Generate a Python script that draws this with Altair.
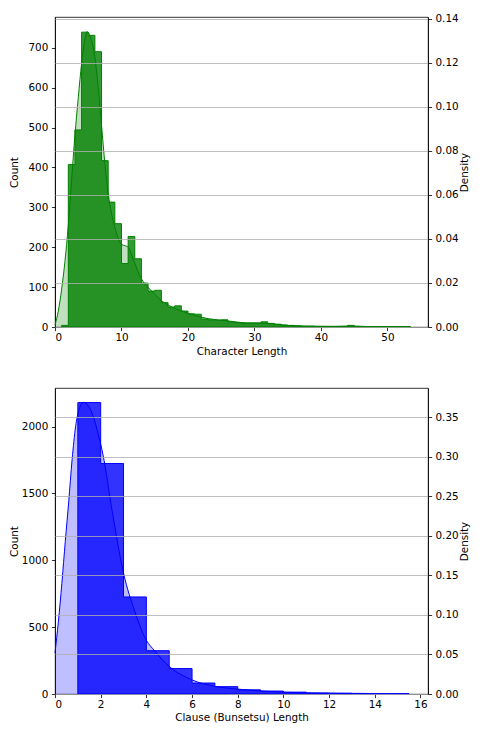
import altair as alt
import pandas as pd

# ---------------- data: Character Length ----------------
char_edges = list(range(1, 54)) + [53.45]
char_counts = [4, 407, 494, 739, 731, 690, 417, 313, 259, 159,
               227, 171, 110, 90, 92, 61, 50, 53, 40, 33,
               32, 20, 18, 17, 18, 13, 11, 10, 10, 10,
               13, 9, 7, 5, 4, 3, 2, 2, 1, 1,
               1, 1, 1, 4, 1, 1, 1, 1, 1, 1,
               1, 1, 1]
char_kde_x = [0, 0.5, 1.0, 1.5, 2.0, 2.5, 3.0, 3.5, 4.0, 4.5, 4.8, 5.2, 5.6, 6.0,
              6.5, 7.0, 7.5, 8.0, 8.5, 9.0, 9.5, 10.0, 10.5, 11.0, 11.5, 12.0,
              13.0, 14.0, 15.0, 16.0, 17.0, 18.0, 19.0, 20.0, 21.0, 23.0, 25.0,
              27.0, 29.0, 31.0, 33.0, 35.0, 38.0, 42.0, 44.5, 47.0, 50.0, 53.45]
char_kde_density = [0.0009, 0.0073, 0.0172, 0.0299, 0.0462, 0.0671, 0.0871, 0.1043,
                    0.1197, 0.1309, 0.1342, 0.1329, 0.1291, 0.1226, 0.1088, 0.0916,
                    0.0744, 0.0608, 0.0517, 0.0453, 0.0403, 0.0375, 0.0370, 0.0363,
                    0.0330, 0.0290, 0.0219, 0.0180, 0.0149, 0.0120, 0.0100, 0.0085,
                    0.0073, 0.0062, 0.0053, 0.0038, 0.0031, 0.0024, 0.0018, 0.0018,
                    0.0013, 0.0007, 0.0004, 0.0003, 0.0005, 0.0002, 0.00015, 0.0001]

# ---------------- data: Clause (Bunsetsu) Length ----------------
clause_edges = list(range(1, 16)) + [15.5]
clause_counts = [2180, 1724, 726, 324, 190, 82, 55, 31, 22, 14, 7, 5, 3, 2, 1]
clause_kde_x = [0, 0.15, 0.3, 0.45, 0.6, 0.75, 0.9, 1.05, 1.25, 1.5, 1.7, 1.9, 2.1,
                2.5, 3.0, 3.5, 4.0, 4.35, 5.0, 6.0, 7.0, 8.0, 9.0, 10.0, 12.0,
                14.0, 15.5]
clause_kde_density = [0.052, 0.092, 0.140, 0.193, 0.243, 0.297, 0.338, 0.360, 0.369,
                      0.363, 0.349, 0.328, 0.303, 0.232, 0.153, 0.104, 0.068, 0.055,
                      0.035, 0.0178, 0.0097, 0.0062, 0.0038, 0.0022, 0.0011, 0.0006,
                      0.0003]

# ---------------- ticks ----------------
char_x_ticks = [0, 10, 20, 30, 40, 50]
char_count_ticks = [0, 100, 200, 300, 400, 500, 600, 700]
char_density_ticks = [0.0, 0.02, 0.04, 0.06, 0.08, 0.10, 0.12, 0.14]
clause_x_ticks = [0, 2, 4, 6, 8, 10, 12, 14, 16]
clause_count_ticks = [0, 500, 1000, 1500, 2000]
clause_density_ticks = [0.0, 0.05, 0.10, 0.15, 0.20, 0.25, 0.30, 0.35]

FONT = 10.4


def step_frame(edges, counts):
    return pd.DataFrame({"x": list(edges), "count": list(counts) + [counts[-1]]})


def panel(edges, counts, kx, kd, color, xmax, cmax, dmax,
          xticks, cticks, dticks, xtitle, w, h, xtpad, ctpad):
    hist_df = step_frame(edges, counts)
    kde_df = pd.DataFrame({"x": kx, "density": kd})
    xenc = alt.X("x:Q", scale=alt.Scale(domain=[0, xmax], nice=False, zero=False),
                 axis=alt.Axis(values=xticks, title=xtitle, grid=False,
                               labelPadding=2, titlePadding=xtpad))
    hist = alt.Chart(hist_df).mark_area(
        interpolate="step-after", fill=color, fillOpacity=0.8,
        stroke=color, strokeWidth=1
    ).encode(
        x=xenc,
        y=alt.Y("count:Q", scale=alt.Scale(domain=[0, cmax], nice=False),
                axis=alt.Axis(values=cticks, title="Count", grid=False, orient="left",
                              format="d", labelPadding=3.6, titlePadding=ctpad)),
    )
    daxis = alt.Axis(values=dticks, title="Density", orient="right", format=".2f",
                     grid=True, gridColor="#b0b0b0", gridWidth=0.8, zindex=1,
                     labelPadding=3.4, titlePadding=1.5, titleAngle=270,
                     titleBaseline="top")
    dscale = alt.Scale(domain=[0, dmax], nice=False)
    kde_area = alt.Chart(kde_df).mark_area(
        interpolate="monotone", color=color, opacity=0.25
    ).encode(x=xenc, y=alt.Y("density:Q", scale=dscale, axis=daxis))
    kde_line = alt.Chart(kde_df).mark_line(
        interpolate="monotone", color=color, strokeWidth=1
    ).encode(x=xenc, y=alt.Y("density:Q", scale=dscale, axis=daxis))
    return alt.layer(hist, alt.layer(kde_area, kde_line)).resolve_scale(
        y="independent").properties(width=w, height=h)


top = panel(char_edges, char_counts, char_kde_x, char_kde_density, "green",
            56.1, 777, 0.1409, char_x_ticks, char_count_ticks, char_density_ticks,
            "Character Length", 373, 310, 3, 8.6)
bottom = panel(clause_edges, clause_counts, clause_kde_x, clause_kde_density, "blue",
               16.33, 2289, 0.3872, clause_x_ticks, clause_count_ticks,
               clause_density_ticks, "Clause (Bunsetsu) Length", 373, 306, 2, 2)

chart = alt.concat(top, bottom, columns=1, spacing=30).properties(
    padding={"left": 0, "top": 5, "right": 0, "bottom": 0}
).configure_axis(
    labelFont="DejaVu Sans", titleFont="DejaVu Sans", labelFontSize=FONT,
    titleFontSize=FONT, titleFontWeight="normal", labelColor="black",
    titleColor="black", domainColor="black", tickColor="black", tickSize=3.6,
    domainWidth=0.8, tickWidth=0.8
).configure_view(stroke="black", strokeWidth=0.8)

chart.save("out.html", embed_options={"renderer": "svg", "actions": False})
